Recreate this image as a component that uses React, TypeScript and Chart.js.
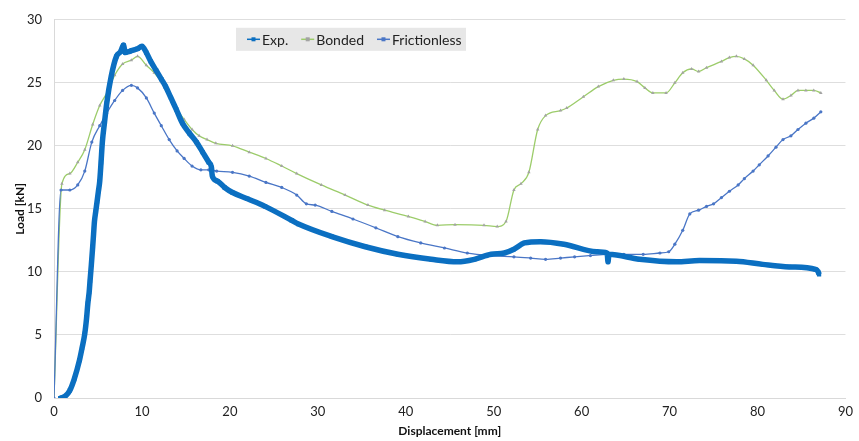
import React, { useEffect, useRef } from "react";
import { Chart, registerables } from "chart.js";

Chart.register(...registerables);

const xTicks = [0, 10, 20, 30, 40, 50, 60, 70, 80, 90];
const yTicks = [0, 5, 10, 15, 20, 25, 30];

const seriesNames = ["Exp.", "Bonded", "Frictionless"];

const expX = [0.7, 1.2, 1.8, 2.3, 2.9, 3.2, 3.5, 3.7, 3.85, 4.0, 4.1, 4.25, 4.4, 4.5, 4.6, 4.75, 4.9, 5.05, 5.2, 5.35, 5.5, 5.75, 6.0, 6.5, 7.1, 7.6, 7.9, 8.1, 8.6, 9.0, 9.5, 10.0, 10.5, 11.0, 11.6, 12.2, 12.7, 13.3, 13.9, 14.6, 15.4, 16.2, 16.9, 17.6, 17.9, 18.0, 18.6, 19.4, 20.3, 22, 24, 27, 27.8, 31.6, 35.4, 39.1, 42.9, 45.9, 47.8, 49.7, 51.2, 52.3, 53.5, 55.3, 58, 61.7, 62.9, 63.0, 63.1, 66.6, 70.8, 73.4, 77.6, 80.6, 83.6, 86.6, 86.9, 87.0];
const expY = [0, 0.1, 0.6, 1.5, 3.0, 4.0, 5.1, 6.3, 7.5, 8.4, 9.3, 10.6, 12.0, 13.0, 14.0, 14.8, 15.6, 16.4, 17.2, 18.7, 20.3, 21.9, 23.4, 25.5, 27.1, 27.5, 28.0, 27.4, 27.5, 27.6, 27.7, 27.9, 27.4, 26.7, 26.0, 25.3, 24.7, 23.8, 22.9, 21.8, 21.0, 20.3, 19.5, 18.7, 18.3, 17.6, 17.2, 16.7, 16.3, 15.8, 15.2, 14.1, 13.8, 12.8, 12.0, 11.4, 11.0, 10.8, 11.0, 11.4, 11.5, 11.8, 12.3, 12.4, 12.2, 11.6, 11.5, 10.8, 11.4, 11.0, 10.8, 10.9, 10.85, 10.6, 10.4, 10.2, 10.0, 9.8];

const bondedX = [0, 0.9, 1.8, 2.7, 3.5, 4.4, 5.2, 6.1, 6.9, 7.8, 8.8, 9.5, 10.5, 11.4, 12.3, 13.1, 14.0, 14.8, 15.7, 16.5, 17.4, 18.4, 20.3, 22.2, 24.1, 25.9, 27.6, 30.4, 33.1, 35.7, 37.6, 40.3, 42.2, 43.6, 45.6, 48.9, 50.4, 51.4, 52.3, 53.1, 54.0, 55.0, 55.9, 57.6, 58.3, 60.2, 61.9, 63.6, 64.8, 66.3, 67.2, 68.1, 69.6, 70.6, 71.5, 72.5, 73.3, 74.2, 75.9, 76.8, 77.6, 78.5, 79.5, 81.0, 81.9, 82.9, 83.8, 84.6, 85.5, 86.4, 87.2];
const bondedY = [0, 17.0, 17.8, 18.7, 19.7, 21.7, 23.2, 24.3, 25.6, 26.5, 26.8, 27.1, 26.4, 25.8, 25.0, 24.1, 22.9, 22.1, 21.3, 20.8, 20.5, 20.2, 20.0, 19.5, 19.0, 18.4, 17.8, 16.9, 16.1, 15.3, 14.9, 14.4, 14.0, 13.7, 13.75, 13.7, 13.6, 14.0, 16.5, 17.0, 17.9, 21.3, 22.4, 22.8, 23.0, 23.9, 24.7, 25.2, 25.3, 25.1, 24.6, 24.2, 24.2, 25.0, 25.8, 26.1, 25.9, 26.2, 26.7, 27.0, 27.1, 26.9, 26.4, 25.2, 24.4, 23.7, 24.0, 24.4, 24.4, 24.4, 24.2];

const fricX = [0, 0.8, 1.8, 2.7, 3.5, 4.3, 5.2, 6.0, 6.9, 7.8, 8.8, 9.5, 10.5, 11.4, 12.2, 13.1, 14.0, 14.8, 15.7, 16.7, 17.6, 18.5, 20.3, 22.2, 24.1, 25.9, 27.6, 28.7, 29.7, 31.6, 34.0, 36.6, 39.1, 41.7, 44.4, 47.0, 49.7, 52.3, 54.2, 55.9, 57.6, 59.2, 61.0, 62.9, 64.8, 67.0, 68.9, 69.9, 70.6, 71.5, 72.3, 73.3, 74.2, 75.0, 75.9, 76.8, 77.8, 78.5, 79.5, 80.2, 81.2, 82.1, 82.9, 83.8, 84.6, 85.5, 86.4, 87.2];
const fricY = [0, 16.5, 16.5, 16.9, 18.0, 20.3, 21.6, 22.6, 23.6, 24.4, 24.8, 24.6, 23.8, 22.6, 21.6, 20.5, 19.6, 19.0, 18.4, 18.1, 18.1, 18.0, 17.9, 17.6, 17.1, 16.7, 16.1, 15.4, 15.3, 14.8, 14.2, 13.5, 12.8, 12.3, 11.9, 11.5, 11.3, 11.2, 11.1, 11.0, 11.1, 11.2, 11.3, 11.4, 11.4, 11.4, 11.5, 11.6, 12.2, 13.3, 14.6, 14.9, 15.2, 15.4, 15.9, 16.4, 16.9, 17.4, 18.0, 18.5, 19.2, 19.9, 20.5, 20.8, 21.3, 21.8, 22.2, 22.7];

const toPts = (xs: number[], ys: number[]) => xs.map((x, i) => ({ x, y: ys[i] }));

const FONT = "Lato, 'Liberation Sans', sans-serif";

const legendPlugin = {
  id: "boxLegend",
  afterDraw(chart: any) {
    const ctx = chart.ctx;
    const a = chart.chartArea;
    const bx = a.left + 182;
    const by = a.top + 8;
    const bw = 230;
    const bh = 23;
    ctx.save();
    ctx.fillStyle = "#e7e7e7";
    ctx.fillRect(bx, by, bw, bh);
    ctx.font = `14px ${FONT}`;
    ctx.textBaseline = "middle";
    ctx.textAlign = "left";
    const cy = by + bh / 2;
    let x = bx + 11;
    chart.data.datasets.forEach((ds: any) => {
      ctx.strokeStyle = ds.borderColor;
      ctx.lineWidth = 1.5;
      ctx.beginPath();
      ctx.moveTo(x, cy);
      ctx.lineTo(x + 13, cy);
      ctx.stroke();
      ctx.fillStyle = ds.pointBackgroundColor;
      ctx.fillRect(x + 4.5, cy - 2, 4, 4);
      ctx.fillStyle = "#222";
      ctx.fillText(ds.label, x + 15, cy + 1);
      x += 15 + ctx.measureText(ds.label).width + 13;
    });
    ctx.restore();
  },
};

export default function App() {
  const ref = useRef<HTMLCanvasElement | null>(null);
  useEffect(() => {
    document.body.style.margin = "0";
    const chart = new Chart(ref.current as HTMLCanvasElement, {
      type: "line",
      data: {
        datasets: [
          {
            label: seriesNames[0],
            data: toPts(expX, expY),
            borderColor: "#0b6fc1",
            backgroundColor: "#0b6fc1",
            pointBackgroundColor: "#0b6fc1",
            pointBorderColor: "#0b6fc1",
            borderWidth: 5.5,
            pointStyle: "rect",
            pointRadius: 3,
            pointBorderWidth: 0,
            tension: 0.2,
            cubicInterpolationMode: "monotone",
            order: 0,
          },
          {
            label: seriesNames[1],
            data: toPts(bondedX, bondedY),
            borderColor: "#9ccc6a",
            backgroundColor: "#9ccc6a",
            pointBackgroundColor: "#a3a3a3",
            pointBorderColor: "#a3a3a3",
            borderWidth: 1.3,
            pointStyle: "triangle",
            pointRadius: 2,
            pointBorderWidth: 0,
            cubicInterpolationMode: "monotone",
            order: 2,
          },
          {
            label: seriesNames[2],
            data: toPts(fricX, fricY),
            borderColor: "#4a76c6",
            backgroundColor: "#4a76c6",
            pointBackgroundColor: "#4a76c6",
            pointBorderColor: "#4a76c6",
            borderWidth: 1.3,
            pointStyle: "circle",
            pointRadius: 1.6,
            pointBorderWidth: 0,
            cubicInterpolationMode: "monotone",
            order: 1,
          },
        ],
      },
      options: {
        animation: false,
        responsive: false,
        layout: { padding: { top: 16, right: 9, left: 0, bottom: 0 } },
        plugins: { legend: { display: false }, tooltip: { enabled: false } },
        scales: {
          x: {
            type: "linear",
            min: 0,
            max: 90,
            afterBuildTicks: (s: any) => {
              s.ticks = xTicks.map((v) => ({ value: v }));
            },
            afterFit: (s: any) => {
              s.height = 43;
            },
            grid: { display: false, drawTicks: false },
            border: { display: true, color: "#d9d9d9", width: 1 },
            ticks: { color: "#222", font: { family: FONT, size: 13 }, padding: 6, maxRotation: 0 },
            title: {
              display: true,
              text: "Displacement [mm]",
              color: "#111",
              font: { family: FONT, size: 12, weight: "bold" },
              padding: { top: 0, bottom: 3 },
            },
          },
          y: {
            type: "linear",
            min: 0,
            max: 30,
            afterBuildTicks: (s: any) => {
              s.ticks = yTicks.map((v) => ({ value: v }));
            },
            afterFit: (s: any) => {
              s.width = 54;
            },
            grid: { color: "#dedede", lineWidth: 1, drawTicks: false },
            border: { display: true, color: "#d9d9d9", width: 1 },
            ticks: { color: "#222", font: { family: FONT, size: 13 }, padding: 12 },
            title: {
              display: true,
              text: "Load [kN]",
              color: "#111",
              font: { family: FONT, size: 12, weight: "bold" },
              padding: { top: 13, bottom: 0 },
            },
          },
        },
      },
      plugins: [legendPlugin],
    } as any);
    return () => chart.destroy();
  }, []);
  return (
    <div style={{ width: 859, height: 441 }}>
      <canvas ref={ref} width={859} height={441} style={{ display: "block", width: 859, height: 441 }} />
    </div>
  );
}
